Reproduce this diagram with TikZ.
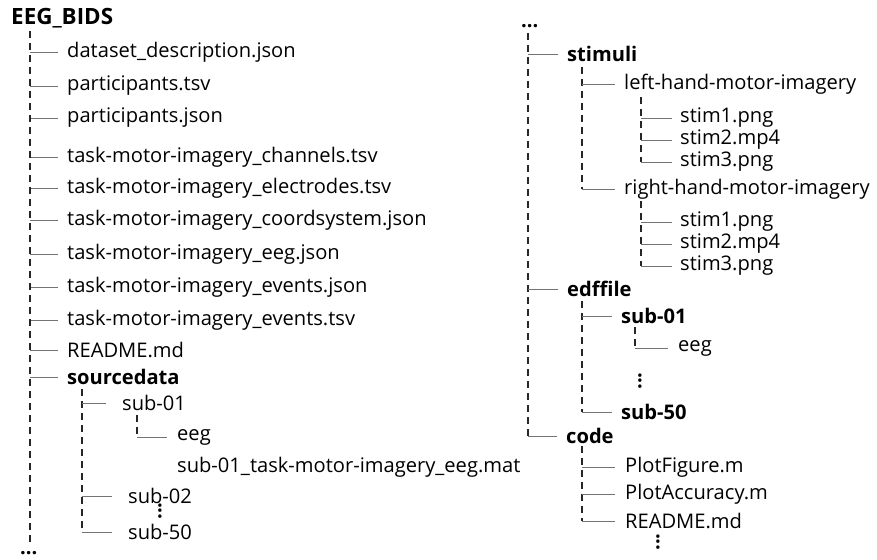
\documentclass[tikz,border=0pt]{standalone}
\usepackage{fontspec}
\setmainfont{Open Sans}
\begin{document}
\begin{tikzpicture}[x=1bp,y=-1bp,
  item/.style={anchor=west,inner sep=0pt,font=\fontsize{20.2}{23}\selectfont},
  bitem/.style={item,font=\fontsize{20.2}{23}\selectfont\bfseries},
  ditem/.style={anchor=base west,inner sep=0pt,font=\fontsize{20.2}{23}\selectfont\bfseries},
  vline/.style={draw=black!85,line width=1.1bp,dash pattern=on 7bp off 5bp},
  hline/.style={draw=black!55,line width=0.9bp},
  dotv/.style={inner sep=0pt,font=\fontsize{20.2}{23}\selectfont\bfseries}]
\useasboundingbox (0,0) rectangle (877,560);
% ---------- left column
\node[bitem,font=\fontsize{22.5}{25}\selectfont\bfseries] (root) at (11,18) {EEG\_BIDS};
\coordinate (t0) at (30,31);
\node[item] (a1) at (67,52) {dataset\_description.json};
\node[item] (a2) at (67,86) {participants.tsv};
\node[item] (a3) at (67,118) {participants.json};
\node[item] (a4) at (67,157) {task-motor-imagery\_channels.tsv};
\node[item] (a5) at (67,188) {task-motor-imagery\_electrodes.tsv};
\node[item] (a6) at (67,220) {task-motor-imagery\_coordsystem.json};
\node[item] (a7) at (67,254) {task-motor-imagery\_eeg.json};
\node[item] (a8) at (67,287) {task-motor-imagery\_events.json};
\node[item] (a9) at (67,320) {task-motor-imagery\_events.tsv};
\node[item] (a10) at (67,350) {README.md};
\node[bitem] (sd) at (67,377) {sourcedata};
\coordinate (t1) at (82,389);
\node[item] (s1) at (122,403) {sub-01};
\coordinate (t2) at (137,415);
\node[item] (e1) at (177,437) {eeg};
\node[item] (m1) at (177,467) {sub-01\_task-motor-imagery\_eeg.mat};
\node[item] (s2) at (128,496) {sub-02};
\node[item] (s50) at (128,532) {sub-50};
\node[dotv] (vd1) at (160,511) {\rotatebox{90}{...}};
\coordinate (tend) at (30,544);
\node[ditem] (ld) at (20,554) {...};
\foreach \n in {a1,a2,a3,a4,a5,a6,a7,a8,a9,a10,sd}
  \draw[hline] (t0 |- \n.west) -- ([xshift=-9bp]\n.west);
\draw[vline] (t0) -- (tend);
\draw[vline] (t1) -- (t1 |- s50.west);
\foreach \n in {s1,s2,s50}
  \draw[hline] (t1 |- \n.west) -- ([xshift=-16bp]\n.west);
\draw[vline] (t2) -- (t2 |- e1.west);
\draw[hline] (t2 |- e1.west) -- ([xshift=-10bp]e1.west);
% ---------- right column
\node[ditem] (rd) at (521,28) {...};
\coordinate (r0) at (528,33);
\node[bitem] (st) at (567,54) {stimuli};
\coordinate (r1) at (582,67);
\node[item] (lh) at (624,84) {left-hand-motor-imagery};
\coordinate (r2) at (641,97);
\node[item] (l1) at (680,118) {stim1.png};
\node[item] (l2) at (680,140) {stim2.mp4};
\node[item] (l3) at (680,162) {stim3.png};
\node[item] (rh) at (624,189) {right-hand-motor-imagery};
\coordinate (r3) at (641,201);
\node[item] (q1) at (680,222) {stim1.png};
\node[item] (q2) at (680,244) {stim2.mp4};
\node[item] (q3) at (680,266) {stim3.png};
\node[bitem] (ed) at (567,289) {edffile};
\coordinate (r4) at (582,301);
\node[bitem] (es1) at (621,316) {sub-01};
\coordinate (r5) at (635,327);
\node[item] (ee) at (678,348) {eeg};
\node[dotv] (vd2) at (640,381) {\rotatebox{90}{...}};
\node[bitem] (es50) at (621,412) {sub-50};
\node[bitem] (cd) at (566,436) {code};
\coordinate (r6) at (582,446);
\node[item] (c1) at (625,467) {PlotFigure.m};
\node[item] (c2) at (625,494) {PlotAccuracy.m};
\node[item] (c3) at (625,521) {README.md};
\node[dotv] (vd3) at (658,542) {\rotatebox{90}{...}};
\draw[vline] (r0) -- (r0 |- cd.west);
\foreach \n in {st,ed,cd}
  \draw[hline] (r0 |- \n.west) -- ([xshift=-9bp]\n.west);
\draw[vline] (r1) -- (r1 |- rh.west);
\foreach \n in {lh,rh}
  \draw[hline] (r1 |- \n.west) -- ([xshift=-9bp]\n.west);
\draw[vline] (r2) -- (r2 |- l3.west);
\foreach \n in {l1,l2,l3}
  \draw[hline] (r2 |- \n.west) -- ([xshift=-8bp]\n.west);
\draw[vline] (r3) -- (r3 |- q3.west);
\foreach \n in {q1,q2,q3}
  \draw[hline] (r3 |- \n.west) -- ([xshift=-8bp]\n.west);
\draw[vline] (r4) -- (r4 |- es50.west);
\foreach \n in {es1,es50}
  \draw[hline] (r4 |- \n.west) -- ([xshift=-9bp]\n.west);
\draw[vline] (r5) -- (r5 |- ee.west);
\draw[hline] (r5 |- ee.west) -- ([xshift=-10bp]ee.west);
\draw[vline] (r6) -- (r6 |- c3.west);
\foreach \n in {c1,c2,c3}
  \draw[hline] (r6 |- \n.west) -- ([xshift=-10bp]\n.west);
\end{tikzpicture}
\end{document}
